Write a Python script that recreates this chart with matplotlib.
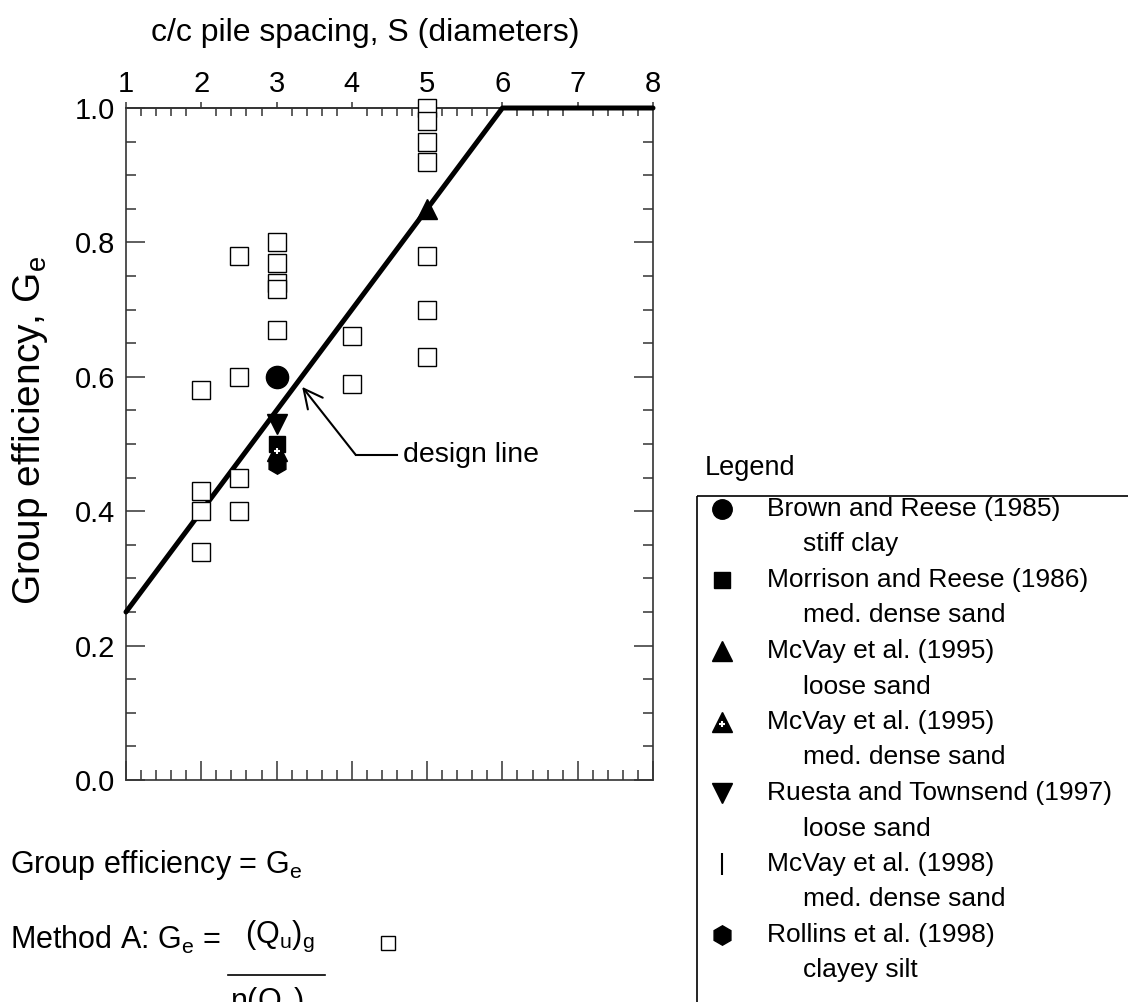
#!/usr/bin/env python3
"""Group efficiency vs c/c pile spacing, with design line and legend."""

import matplotlib
matplotlib.use('Agg')
import matplotlib.pyplot as plt
from matplotlib.ticker import MultipleLocator
from matplotlib.patches import Rectangle
from matplotlib.lines import Line2D

plt.rcParams['font.family'] = ['Liberation Sans', 'DejaVu Sans']
plt.rcParams['mathtext.default'] = 'regular'

# ── data ─────────────────────────────────────────────────────────────────────
# open squares (Method A data)
sq_S = [2, 2, 2, 2,
        2.5, 2.5, 2.5, 2.5,
        3, 3, 3, 3, 3,
        4, 4,
        5, 5, 5, 5, 5, 5, 5]
sq_G = [0.58, 0.43, 0.40, 0.34,
        0.78, 0.60, 0.45, 0.40,
        0.80, 0.77, 0.74, 0.73, 0.67,
        0.66, 0.59,
        1.00, 0.98, 0.95, 0.92, 0.78, 0.70, 0.63]

brown_S,    brown_G    = [3], [0.60]
morrison_S, morrison_G = [3], [0.50]
mcvay95l_S, mcvay95l_G = [5], [0.85]
mcvay95m_S, mcvay95m_G = [3], [0.49]
ruesta_S,   ruesta_G   = [3], [0.53]
mcvay98_S,  mcvay98_G  = [3], [0.49]
rollins_S,  rollins_G  = [3], [0.47]

design_S = [1, 6, 8]
design_G = [0.25, 1.0, 1.0]

legend_names = ['Brown and Reese (1985)', 'Morrison and Reese (1986)',
                'McVay et al. (1995)', 'McVay et al. (1995)',
                'Ruesta and Townsend (1997)', 'McVay et al. (1998)',
                'Rollins et al. (1998)']
legend_soils = ['stiff clay', 'med. dense sand', 'loose sand', 'med. dense sand',
                'loose sand', 'med. dense sand', 'clayey silt']

FRAME = '#333333'

# ── figure ───────────────────────────────────────────────────────────────────
W, H = 1128, 1002
fig = plt.figure(figsize=(W / 100, H / 100), dpi=100)
ax = fig.add_axes([126 / W, 1 - 780 / H, 527 / W, 672 / H])

ax.set_xlim(1, 8)
ax.set_ylim(0, 1.0)
for sp in ax.spines.values():
    sp.set_color(FRAME)
    sp.set_linewidth(1.2)

# bottom / left / right ticks (inward)
ax.xaxis.set_major_locator(MultipleLocator(1))
ax.xaxis.set_minor_locator(MultipleLocator(0.2))
ax.yaxis.set_major_locator(MultipleLocator(0.2))
ax.yaxis.set_minor_locator(MultipleLocator(0.05))
ax.tick_params(axis='x', which='both', direction='in', top=False, bottom=True,
               labelbottom=False, color=FRAME, width=1.1)
ax.tick_params(axis='x', which='major', length=14)
ax.tick_params(axis='x', which='minor', length=7)
ax.tick_params(axis='y', which='both', direction='in', left=True, right=True,
               labelsize=21, color=FRAME, width=1.1, pad=8)
ax.tick_params(axis='y', which='major', length=14)
ax.tick_params(axis='y', which='minor', length=7)
ax.yaxis.set_major_formatter(lambda v, p: f'{v:.1f}')

# top axis: labels + small outward majors, inward minors
top = ax.secondary_xaxis('top')
top.xaxis.set_major_locator(MultipleLocator(1))
top.xaxis.set_minor_locator(MultipleLocator(0.2))
top.tick_params(which='major', direction='out', length=4, width=1.1,
                color=FRAME, labelsize=21, pad=3)
top.tick_params(which='minor', direction='in', length=6, width=1.1, color=FRAME)
top.spines['top'].set_color(FRAME)
top.spines['top'].set_linewidth(1.2)

fig.text(365 / W, 1 - 33 / H, 'c/c pile spacing, S (diameters)',
         fontsize=23, ha='center', va='center')
fig.text(30 / W, 1 - 430 / H, 'Group efficiency, G$_e$', fontsize=28,
         rotation=90, ha='center', va='center')

# design line
ax.plot(design_S, design_G, color='black', lw=3.6, clip_on=False, zorder=3,
        solid_capstyle='round')

# data
ax.plot(sq_S, sq_G, ls='none', marker='s', ms=13, mfc='white', mec='black',
        mew=1.0, zorder=4, clip_on=False)
ax.plot(brown_S, brown_G, ls='none', marker='o', ms=16, color='black', zorder=5)
ax.plot(ruesta_S, ruesta_G, ls='none', marker='v', ms=14, color='black', zorder=5)
ax.plot(morrison_S, morrison_G, ls='none', marker='s', ms=12, color='black', zorder=5)
ax.plot(mcvay95m_S, mcvay95m_G, ls='none', marker='^', ms=14, color='black', zorder=5)
ax.plot(mcvay95m_S, mcvay95m_G, ls='none', marker='+', ms=5, mew=1.5,
        color='white', zorder=6)
ax.plot(mcvay98_S, mcvay98_G, ls='none', marker='|', ms=15, mew=1.5,
        color='black', zorder=5)
ax.plot(rollins_S, rollins_G, ls='none', marker='h', ms=14, color='black', zorder=5)
ax.plot(mcvay95l_S, mcvay95l_G, ls='none', marker='^', ms=14, color='black', zorder=5)

# design line annotation
ax.plot([4.05, 4.6], [0.484, 0.484], color='black', lw=1.5, zorder=3)
ax.annotate('', xy=(3.34, 0.585), xytext=(4.05, 0.484),
            arrowprops=dict(arrowstyle='->', color='black', lw=1.5,
                            mutation_scale=34, shrinkA=0, shrinkB=0))
ax.text(4.68, 0.484, 'design line', fontsize=20.5, ha='left', va='center')

# ── overlay in pixel coordinates for legend and formulas ─────────────────────
ov = fig.add_axes([0, 0, 1, 1], zorder=-1)
ov.set_xlim(0, W)
ov.set_ylim(H, 0)
ov.axis('off')

ov.text(705, 468, 'Legend', fontsize=19.5, ha='left', va='center')
ov.add_patch(Rectangle((697, 496), 500, 600, fill=False, ec='black', lw=1.2,
                       clip_on=False))

row0, step = 509, 35.5
styles = [dict(marker='o', ms=14), dict(marker='s', ms=12), dict(marker='^', ms=14),
          dict(marker='^', ms=14), dict(marker='v', ms=14),
          dict(marker='|', ms=16, mew=1.5), dict(marker='h', ms=14)]
for i, (name, soil, st) in enumerate(zip(legend_names, legend_soils, styles)):
    y = row0 + 2 * i * step
    ov.add_line(Line2D([722], [y], ls='none', color='black', **st))
    if i == 3:
        ov.add_line(Line2D([722], [y + 2], ls='none', marker='+', ms=5, mew=1.5,
                           color='white'))
    ov.text(767, y, name, fontsize=19, ha='left', va='center')
    ov.text(803, y + step, soil, fontsize=19, ha='left', va='center')

# formulas
ov.text(10, 865, 'Group efficiency = G$_e$', fontsize=22, ha='left', va='center')
ov.text(10, 940, 'Method A: G$_e$ = ', fontsize=22, ha='left', va='center')
ov.text(280, 936, '(Q$_u$)$_g$', fontsize=22, ha='center', va='center')
ov.plot([228, 325], [975, 975], color='black', lw=1.2)
ov.text(230, 1002, 'n(Q$_u$)', fontsize=22, ha='left', va='center')
ov.plot([388], [943], ls='none', marker='s', ms=10, mfc='white', mec='black', mew=1.0)

fig.savefig('out.png', dpi=100)
print('Saved out.png')
